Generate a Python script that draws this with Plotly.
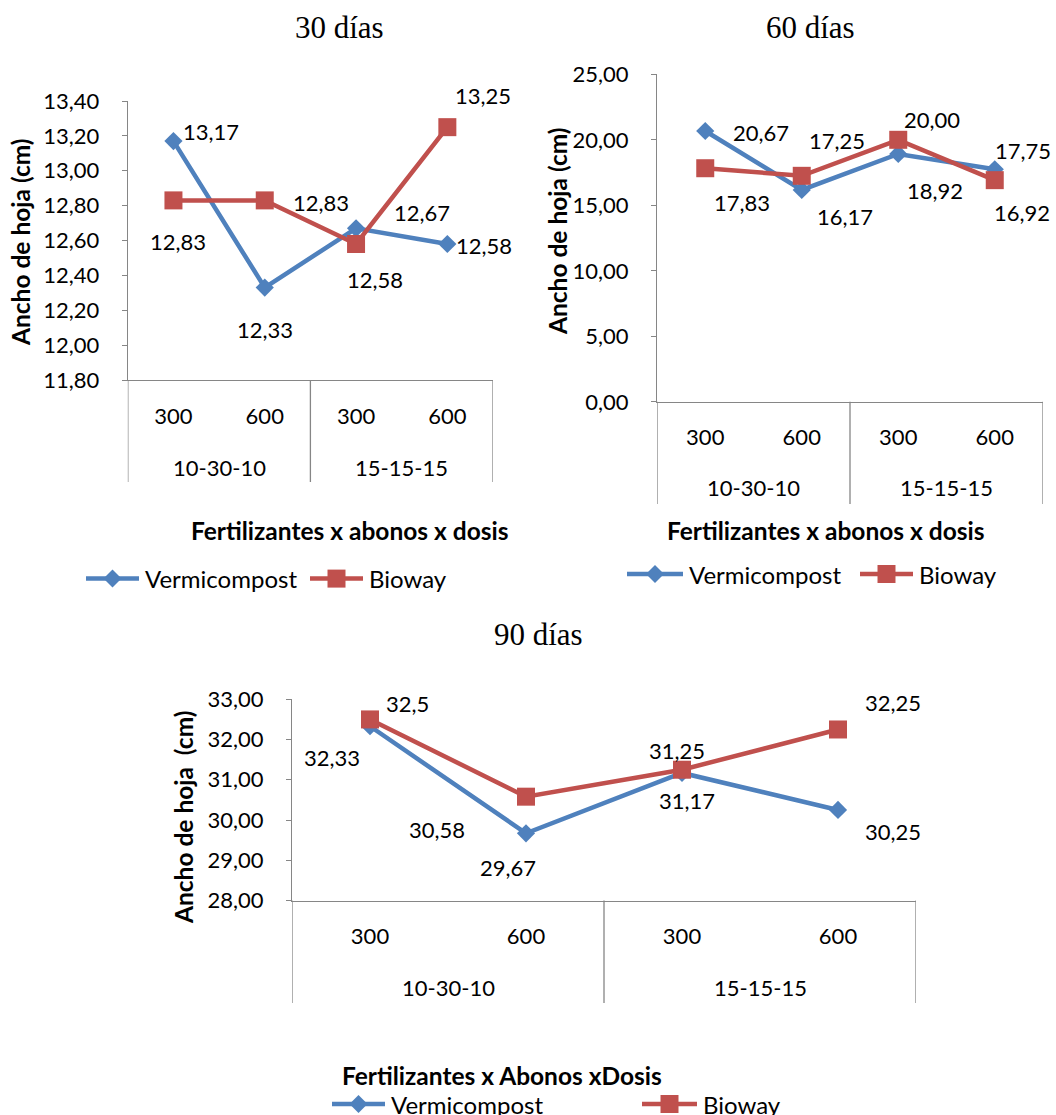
import plotly.graph_objects as go

# ---- data -------------------------------------------------------------
dosis = ["300", "600", "300", "600"]          # dose level under each point
fertilizantes = ["10-30-10", "15-15-15"]       # fertiliser group (2 doses each)
series_names = ["Vermicompost", "Bioway"]

vermi_30 = [13.17, 12.33, 12.67, 12.58]
bioway_30 = [12.83, 12.83, 12.58, 13.25]
yticks_30 = [11.8, 12.0, 12.2, 12.4, 12.6, 12.8, 13.0, 13.2, 13.4]

vermi_60 = [20.67, 16.17, 18.92, 17.75]
bioway_60 = [17.83, 17.25, 20.00, 16.92]
yticks_60 = [0, 5, 10, 15, 20, 25]

vermi_90 = [32.33, 29.67, 31.17, 30.25]
bioway_90 = [32.5, 30.58, 31.25, 32.25]
yticks_90 = [28, 29, 30, 31, 32, 33]

# ---- styling ----------------------------------------------------------
W, H = 1056, 1115
BLUE = "#4F81BD"
RED = "#C0504D"
AXIS = "#868686"
SANS = "Lato, 'Open Sans', sans-serif"
SERIF = "'Liberation Serif', 'Times New Roman', serif"
FS = 22          # tick / value label size
FS_BOLD = 24.5   # axis titles
LINE_W = 4.5


def fx(px):
    return px / W


def fy(py):
    return 1 - py / H


def fmt2(v):
    return f"{v:.2f}".replace(".", ",")


def fmtg(v):
    return f"{v:g}".replace(".", ",")


panels = [
    dict(title="30 días", vermi=vermi_30, bioway=bioway_30, yticks=yticks_30, fmt=fmt2,
         box=(127.8, 493, 101, 380), title_xy=(339, 27),
         ytitle="Ancho de hoja (cm)", ytitle_xy=(20, 242),
         xtitle="Fertilizantes x abonos x dosis", xtitle_xy=(349.5, 530),
         group_y=467, divider_bottom=482,
         legend_y=578.6, legend_lines=[(86, 139), (310, 363)],
         vermi_off=[(38, -10), (0, 42), (66, -16), (37, 2)],
         bioway_off=[(5, 41), (56, 2), (19, 35.5), (36, -32)]),
    dict(title="60 días", vermi=vermi_60, bioway=bioway_60, yticks=yticks_60, fmt=fmt2,
         box=(657, 1043, 74.3, 401.8), title_xy=(810, 27),
         ytitle="Ancho de hoja (cm)", ytitle_xy=(557, 231),
         xtitle="Fertilizantes x abonos x dosis", xtitle_xy=(825, 530),
         group_y=487.5, divider_bottom=504,
         legend_y=574, legend_lines=[(627, 683), (860, 913)],
         vermi_off=[(56, 1), (43, 27), (37, 37), (28, -19)],
         bioway_off=[(37, 34), (35, -35), (34, -20), (27, 32)]),
    dict(title="90 días", vermi=vermi_90, bioway=bioway_90, yticks=yticks_90, fmt=fmtg,
         box=(292, 916, 699.3, 900.5), title_xy=(538, 634),
         ytitle="Ancho de hoja\u00a0 (cm)", ytitle_xy=(183, 817),
         xtitle="Fertilizantes x Abonos xDosis", xtitle_xy=(502, 1075),
         group_y=987, divider_bottom=1003,
         legend_y=1104, legend_lines=[(332, 385), (642, 697)],
         vermi_off=[(-38, 31), (-18, 34), (5, 28), (55, 22)],
         bioway_off=[(37, -16), (-89, 33), (-5, -19.5), (55, -27)]),
]

series_style = [
    dict(color=BLUE, symbol="diamond", size=14),
    dict(color=RED, symbol="square", size=18),
]

fig = go.Figure()
annotations = []
shapes = []
layout = dict(
    width=W, height=H, margin=dict(l=0, r=0, t=0, b=0, autoexpand=False),
    paper_bgcolor="white", plot_bgcolor="white",
    separators=",.", hovermode=False, showlegend=False,
    font=dict(family=SANS, color="black"),
)

xs = list(range(len(dosis)))
n_per_group = len(dosis) // len(fertilizantes)


def text_at(x, y, text, size, family=SANS, xref="paper", yref="paper", **kw):
    d = dict(x=x, y=y, xref=xref, yref=yref, text=text, showarrow=False,
             xanchor="center", yanchor="middle",
             font=dict(family=family, size=size, color="black"))
    d.update(kw)
    return d


def legend_key(style, x0, x1, yc):
    """Line segment with the series marker in the middle (paper coords)."""
    out = [dict(type="line", xref="paper", yref="paper",
                x0=fx(x0), x1=fx(x1), y0=fy(yc), y1=fy(yc),
                line=dict(color=style["color"], width=LINE_W))]
    cx = (x0 + x1) / 2
    r = 9
    if style["symbol"] == "diamond":
        path = (f"M{fx(cx - r)},{fy(yc)} L{fx(cx)},{fy(yc - r)} "
                f"L{fx(cx + r)},{fy(yc)} L{fx(cx)},{fy(yc + r)} Z")
        out.append(dict(type="path", xref="paper", yref="paper", path=path,
                        fillcolor=style["color"], line=dict(width=0)))
    else:
        out.append(dict(type="rect", xref="paper", yref="paper",
                        x0=fx(cx - r), x1=fx(cx + r), y0=fy(yc + r), y1=fy(yc - r),
                        fillcolor=style["color"], line=dict(width=0)))
    return out


for i, p in enumerate(panels, start=1):
    sfx = "" if i == 1 else str(i)
    xa, ya = "x" + sfx, "y" + sfx
    left, right, top, bottom = p["box"]

    for name, vals, st in zip(series_names, (p["vermi"], p["bioway"]), series_style):
        fig.add_trace(go.Scatter(
            x=xs, y=vals, name=name, mode="lines+markers",
            line=dict(color=st["color"], width=LINE_W),
            marker=dict(symbol=st["symbol"], size=st["size"], color=st["color"]),
            xaxis=xa, yaxis=ya, cliponaxis=False,
        ))

    # value labels
    for vals, offs in ((p["vermi"], p["vermi_off"]), (p["bioway"], p["bioway_off"])):
        for xi, (v, (dx, dy)) in enumerate(zip(vals, offs)):
            annotations.append(text_at(xi, v, p["fmt"](v), FS, xref=xa, yref=ya,
                                       xshift=dx, yshift=-dy))

    # fertiliser group labels and the separators between groups
    for g, gname in enumerate(fertilizantes):
        gx = g * n_per_group + (n_per_group - 1) / 2
        annotations.append(text_at(gx, fy(p["group_y"]), gname, FS, xref=xa))
    for b in range(len(fertilizantes) + 1):
        bx = b * n_per_group - 0.5
        shapes.append(dict(
            type="line", xref=xa, yref="paper", x0=bx, x1=bx,
            y0=fy(bottom), y1=fy(p["divider_bottom"]),
            line=dict(color=AXIS, width=1.3),
        ))

    # titles
    tx, ty = p["title_xy"]
    annotations.append(text_at(fx(tx), fy(ty), p["title"], 31, family=SERIF))
    yx, yy = p["ytitle_xy"]
    annotations.append(text_at(fx(yx), fy(yy), "<b>" + p["ytitle"] + "</b>", FS_BOLD,
                               textangle=-90))
    xx, xy = p["xtitle_xy"]
    annotations.append(text_at(fx(xx), fy(xy), "<b>" + p["xtitle"] + "</b>", FS_BOLD))

    # legend
    for name, st, (x0, x1) in zip(series_names, series_style, p["legend_lines"]):
        shapes.extend(legend_key(st, x0, x1, p["legend_y"]))
        annotations.append(text_at(fx(x1 + 4), fy(p["legend_y"]), name, 24,
                                   xanchor="left"))

    yt = p["yticks"]
    layout["xaxis" + sfx] = dict(
        domain=[fx(left), fx(right)], anchor=ya, range=[-0.5, len(dosis) - 0.5],
        tickvals=xs, ticktext=dosis, ticks="", showgrid=False, zeroline=False,
        showline=True, linecolor=AXIS, linewidth=1.3,
        tickfont=dict(family=SANS, size=FS, color="black"), ticklabelstandoff=16,
        fixedrange=True,
    )
    layout["yaxis" + sfx] = dict(
        domain=[fy(bottom), fy(top)], anchor=xa, range=[yt[0], yt[-1]],
        tickvals=yt, tickformat=".2f", ticks="outside", ticklen=5,
        tickcolor=AXIS, tickwidth=1.3, showgrid=False, zeroline=False,
        showline=True, linecolor=AXIS, linewidth=1.3,
        tickfont=dict(family=SANS, size=FS, color="black"), ticklabelstandoff=18,
        fixedrange=True,
    )

layout["annotations"] = annotations
layout["shapes"] = shapes
fig.update_layout(**layout)
fig.write_html("out.html")
